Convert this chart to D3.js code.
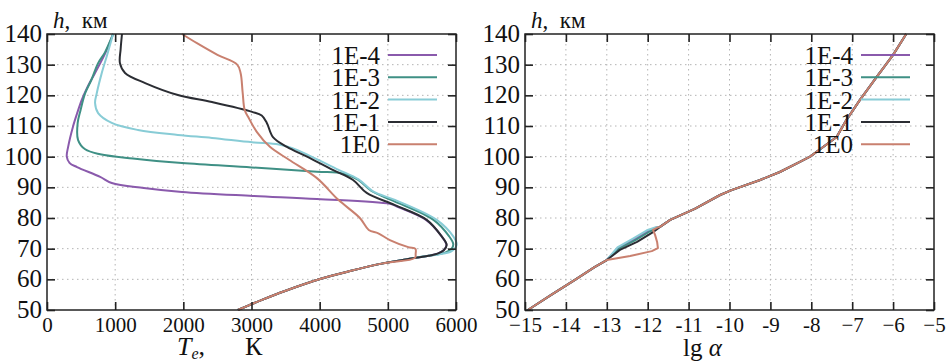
<!DOCTYPE html>
<html>
<head>
<meta charset="utf-8">
<script src="https://cdn.jsdelivr.net/npm/d3@7"></script>
<style>
  html, body { margin: 0; padding: 0; background: #fff; }
  svg { display: block; }
</style>
</head>
<body>
<script>
// ---------------- DATA ----------------
const heightTicks = [50, 60, 70, 80, 90, 100, 110, 120, 130, 140];
const tempTicks = [0, 1000, 2000, 3000, 4000, 5000, 6000];
const lgTicks = [-15, -14, -13, -12, -11, -10, -9, -8, -7, -6, -5];
const lgTickLabels = ["\u221215", "-14", "-13", "-12", "-11", "-10", "-9", "-8", "\u22127", "\u22126", "\u22125"];
const seriesNames = ["1E-4", "1E-3", "1E-2", "1E-1", "1E0"];
const seriesColors = ["#8a5aac", "#3f9085", "#88ccd6", "#2b2d33", "#c9806f"];

// Left panel: [T_e (K), h (km)]
const teCommonLow = [[5398, 67.0], [4929, 65.2], [4445, 62.7], [4005, 60.1], [3491, 56.2], [3154, 53.3], [2800, 50]];
const te1e4 = [[970, 140], [850, 133.5], [705, 127.3], [600, 123], [510, 118.5], [440, 114], [380, 109.7], [310, 103.2], [290, 100], [330, 98], [440, 96.6], [780, 93.4], [950, 91.4], [1420, 89.8], [1980, 88.5], [3020, 87.2], [3960, 86.2], [5030, 84.6], [5150, 83.6], [5560, 79.4], [5790, 74], [5860, 71.2], [5820, 69.5], [5730, 68.4], [5600, 67.7]];
const te1e3 = [[970, 140], [850, 134], [750, 130.5], [650, 125], [560, 120.7], [490, 115], [450, 111], [455, 105.5], [560, 102.4], [780, 100.8], [1260, 99.4], [1980, 97.9], [3000, 96.5], [3960, 95.1], [4340, 94.5], [4560, 92.5], [4760, 88.8], [5090, 85.5], [5670, 79.4], [5900, 74], [5960, 71.5], [5937, 70], [5840, 68.7], [5600, 67.7]];
const te1e2 = [[970, 140], [880, 133], [800, 127], [730, 120.7], [705, 117.5], [750, 114.2], [950, 111], [1335, 108.7], [1920, 107.1], [2420, 106.1], [3010, 104.7], [3400, 104], [3600, 102.8], [3880, 100], [4270, 95.8], [4570, 92.6], [4790, 88.6], [5105, 85.9], [5717, 79.4], [5960, 74], [6010, 71.5], [5990, 70.3], [5920, 69.0], [5760, 68.2], [5600, 67.7]];
const te1e1 = [[1100, 140], [1080, 135], [1070, 130.5], [1145, 127.3], [1440, 124], [1920, 120.1], [2420, 117.8], [3010, 114.6], [3150, 113.4], [3225, 111], [3315, 106.4], [3520, 103.2], [3815, 100], [4200, 95.6], [4490, 92.4], [4690, 88.2], [5105, 84.2], [5570, 79.4], [5790, 74], [5863, 71.2], [5820, 69.5], [5730, 68.4], [5600, 67.7]];
const te1e0 = [[1980, 140], [2200, 137], [2500, 133.2], [2790, 130], [2840, 127.3], [2870, 121], [2900, 115.2], [2950, 113], [3080, 108], [3270, 103.2], [3550, 99], [3960, 93], [4270, 86], [4590, 80], [4720, 76.1], [4860, 75], [5030, 72.8], [5300, 70.5], [5405, 69.9], [5408, 68.3]];

// Right panel: [lg alpha, h (km)]
const lgCommonLow = [[-14.93, 50], [-14.35, 55], [-13.76, 60], [-13.3, 64], [-13.0, 66.3]];
const lgCommonHigh = [[-11.70, 77.1], [-11.45, 79.4], [-10.85, 83], [-10.23, 87.5], [-9.95, 89.1], [-9.25, 92.4], [-8.77, 95], [-8.28, 98.3], [-8.03, 100], [-7.86, 101.7], [-7.38, 106.4], [-7.14, 112], [-6.81, 118.5], [-6.40, 126], [-6.0, 133.2], [-5.68, 140]];
const lg1e4 = [[-12.72, 70.2], [-12.33, 73.0], [-11.98, 75.8], [-11.77, 77.0]];
const lg1e3 = [[-12.70, 70.0], [-12.30, 72.8], [-11.95, 75.6], [-11.75, 77.0]];
const lg1e2 = [[-12.74, 70.4], [-12.36, 73.3], [-12.02, 76.0], [-11.80, 77.0]];
const lg1e1 = [[-12.68, 69.6], [-12.26, 72.2], [-11.87, 75.4]];
const lg1e0 = [[-12.43, 67.6], [-11.90, 69.2], [-11.75, 70.2], [-11.77, 72.2], [-11.82, 74.5], [-11.87, 76.1], [-11.76, 76.9]];

// ---------------- LAYOUT ----------------
const FONT = "Liberation Serif";
const W = 952, H = 361;
const svg = d3.select("body").append("svg").attr("width", W).attr("height", H);

const yTop = 34, yBot = 310;
const panels = [
  {
    x0: 47, x1: 456,
    domain: [0, 6000], ticks: tempTicks, labels: tempTicks.map(String),
    gridX: tempTicks.slice(1, -1),
    series: [te1e4, te1e3, te1e2, te1e1, te1e0].map(s => s.concat(teCommonLow)),
    curve: d3.curveCatmullRom.alpha(0.5),
    legendRight: 380,
    title: "T"
  },
  {
    x0: 525, x1: 934,
    domain: [-15, -5], ticks: lgTicks, labels: lgTickLabels,
    gridX: lgTicks.slice(1, -1),
    series: [lg1e4, lg1e3, lg1e2, lg1e1, lg1e0].map(s => lgCommonLow.concat(s, lgCommonHigh)),
    curve: d3.curveLinear,
    legendRight: 853,
    title: "lg"
  }
];

const y = d3.scaleLinear().domain([50, 140]).range([yBot, yTop]);

panels.forEach(p => {
  const x = d3.scaleLinear().domain(p.domain).range([p.x0, p.x1]);
  const g = svg.append("g");

  // grid
  g.append("g").selectAll("line").data(p.gridX).join("line")
    .attr("x1", d => x(d)).attr("x2", d => x(d))
    .attr("y1", yTop).attr("y2", yBot)
    .attr("stroke", "#b4b4b4").attr("stroke-width", 1).attr("stroke-dasharray", "1.5,3.5");
  g.append("g").selectAll("line").data(heightTicks.slice(1, -1)).join("line")
    .attr("x1", p.x0).attr("x2", p.x1)
    .attr("y1", d => y(d)).attr("y2", d => y(d))
    .attr("stroke", "#b4b4b4").attr("stroke-width", 1).attr("stroke-dasharray", "1.5,3.5");

  // series
  const line = d3.line().x(d => x(d[0])).y(d => y(d[1])).curve(p.curve);
  p.series.forEach((s, i) => {
    g.append("path").datum(s)
      .attr("d", line)
      .attr("fill", "none")
      .attr("stroke", seriesColors[i])
      .attr("stroke-width", 2)
      .attr("stroke-linejoin", "round");
  });

  // axes (inward ticks, mirrored)
  const axB = g.append("g").attr("transform", `translate(0,${yBot})`)
    .call(d3.axisBottom(x).tickValues(p.ticks).tickSize(-8).tickPadding(6)
      .tickFormat((d, i) => p.labels[i]));
  axB.selectAll("text").attr("font-size", 21).attr("dy", "0.76em");
  g.append("g").attr("transform", `translate(0,${yTop})`)
    .call(d3.axisTop(x).tickValues(p.ticks).tickSize(-8).tickFormat(""));
  const axL = g.append("g").attr("transform", `translate(${p.x0},0)`)
    .call(d3.axisLeft(y).tickValues(heightTicks).tickSize(-8).tickPadding(5));
  axL.selectAll("text").attr("font-size", 25).attr("dy", "0.3em");
  g.append("g").attr("transform", `translate(${p.x1},0)`)
    .call(d3.axisRight(y).tickValues(heightTicks).tickSize(-8).tickFormat(""));
  g.selectAll(".domain").remove();
  g.selectAll(".tick line").attr("stroke", "#222").attr("stroke-width", 1.6);

  // frame
  g.append("rect").attr("x", p.x0).attr("y", yTop)
    .attr("width", p.x1 - p.x0).attr("height", yBot - yTop)
    .attr("fill", "none").attr("stroke", "#222").attr("stroke-width", 1.5);

  // y label
  const yl = g.append("text").attr("x", p.x0 + 6).attr("y", 28).attr("font-size", 23).style("white-space", "pre");
  yl.append("tspan").attr("font-style", "italic").text("h");
  yl.append("tspan").text(",  км");

  // x title
  if (p.title === "T") {
    const t = g.append("text").attr("x", 177).attr("y", 355).attr("font-size", 26).style("white-space", "pre");
    t.append("tspan").attr("font-style", "italic").text("T");
    t.append("tspan").attr("font-style", "italic").attr("font-size", 16).attr("dy", 4).text("e");
    t.append("tspan").attr("dy", -4).text(",");
    t.append("tspan").attr("dx", 40).text("К");
  } else {
    const t = g.append("text").attr("x", 683).attr("y", 356).attr("font-size", 25).style("white-space", "pre");
    t.append("tspan").text("lg ");
    t.append("tspan").attr("font-style", "italic").text("α");
  }

  // legend
  seriesNames.forEach((name, i) => {
    const ly = 55 + i * 22.3;
    g.append("text").attr("x", p.legendRight).attr("y", ly + 9)
      .attr("text-anchor", "end").attr("font-size", 25).text(name);
    g.append("line").attr("x1", p.legendRight + 8).attr("x2", p.legendRight + 57)
      .attr("y1", ly).attr("y2", ly)
      .attr("stroke", seriesColors[i]).attr("stroke-width", 2);
  });
});

svg.selectAll("g").attr("font-family", null);
svg.selectAll("text").attr("font-family", FONT).attr("fill", "#111");
</script>
</body>
</html>
